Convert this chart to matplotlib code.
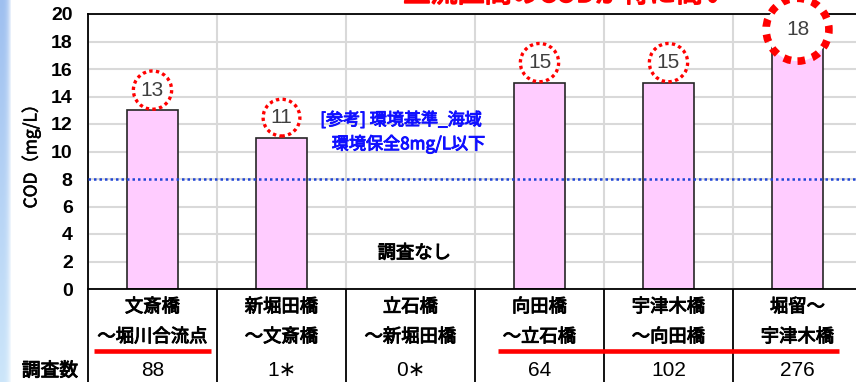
import numpy as np
import matplotlib
matplotlib.use('Agg')
import matplotlib.pyplot as plt
import matplotlib.patheffects as pe

plt.rcParams['font.family'] = ['Liberation Sans', 'Noto Sans CJK JP', 'DejaVu Sans']

# data
section_top = ['文斎橋', '新堀田橋', '立石橋', '向田橋', '宇津木橋', '堀留～']
section_bottom = ['～堀川合流点', '～文斎橋', '～新堀田橋', '～立石橋', '～向田橋', '宇津木橋']
cod_values = [13, 11, np.nan, 15, 15, 18]
survey_counts = ['88', '1∗', '0∗', '64', '102', '276']
env_standard = 8
big_mark = [False, False, False, False, False, True]
underlined = [[0, 0], [3, 5]]   # (first, last) section index of each red underline

W, H = 856, 382
fig = plt.figure(figsize=(W / 100, H / 100), dpi=100)
fig.patch.set_facecolor('white')


def heavy(color, w=0.7):
    # the CJK font has no bold face here, so thicken the strokes
    return [pe.withStroke(linewidth=w, foreground=color)]


jp = ['Noto Sans CJK JP']

# light blue strip on the left edge
strip = fig.add_axes([0, 0, 12 / W, 1])
top_c = np.array([0.62, 0.75, 0.94])
bot_c = np.array([0.80, 0.90, 0.98])
t = np.linspace(0, 1, 200)[:, None, None]
grad = top_c * (1 - t) + bot_c * t
fade = np.linspace(0, 1, 12)[None, :, None] ** 3
grad = grad * (1 - fade) + 1.0 * fade
strip.imshow(grad, aspect='auto', extent=[0, 1, 0, 1])
strip.axis('off')

ax = fig.add_axes([88 / W, 93 / H, 774 / W, 275 / H])
x = np.arange(len(cod_values))

ax.bar(x, cod_values, width=0.4, color='#ffccff', edgecolor='#262626', linewidth=1.2, zorder=2)
ax.axhline(env_standard, color='#1f45d6', linestyle=(0, (1, 1.2)), linewidth=1.8, zorder=3)

ax.set_xlim(-0.5, len(cod_values) - 0.5)
ax.set_ylim(0, 20)
ax.set_yticks(range(0, 21, 2))
ax.set_xticks([])
ax.set_xticks(np.arange(-0.5, len(cod_values), 1), minor=True)
ax.tick_params(axis='both', which='both', length=0)
ax.tick_params(axis='y', pad=11, labelsize=14)
for lbl in ax.get_yticklabels():
    lbl.set_fontweight('bold')
ax.set_axisbelow(True)
ax.grid(axis='y', color='#d9d9d9', linewidth=1.5)
ax.grid(axis='x', which='minor', color='#d9d9d9', linewidth=1.5)
for side in ['top', 'left', 'bottom']:
    ax.spines[side].set_color('black')
    ax.spines[side].set_linewidth(1.3)
ax.spines['right'].set_visible(False)

fig.text(31 / W, 1 - 152 / H, 'COD（mg/L）', rotation=90, ha='center', va='center',
         fontsize=12.5, family=jp, path_effects=heavy('black', 0.4))

# value labels with red dotted circles
for i, v in enumerate(cod_values):
    if np.isnan(v):
        continue
    if big_mark[i]:
        box = dict(boxstyle='circle,pad=0.95', fc='white', ec='#ff0000', lw=5.5, ls=(0, (1, 1)))
        off = 8.5
    else:
        box = dict(boxstyle='circle,pad=0.36', fc='white', ec='#ff0000', lw=2.4, ls=(0, (1, 1)))
        off = 14.5
    ax.annotate(f'{v:.0f}', (i, v), xytext=(0, off), textcoords='offset points',
                ha='center', va='center', fontsize=15, color='#404040', bbox=box,
                zorder=5, annotation_clip=False)

# notes
ax.text(1.30, 12.3, '[参考] 環境基準_海域', color='#1010ff', fontsize=12.3,
        family=jp, va='center', ha='left', path_effects=heavy('#1010ff'))
ax.text(1.39, 10.55, '環境保全8mg/L以下', color='#1010ff', fontsize=12.3,
        family=jp, va='center', ha='left', path_effects=heavy('#1010ff'))
ax.text(2.03, 2.6, '調査なし', color='black', fontsize=13.2,
        family=jp, va='center', ha='center', path_effects=heavy('black'))

# headline cut at the top edge
fig.text(567 / W, 1 - 2 / H, '上流区間のCODが特に高い', color='#ff0000', fontsize=19.5,
         family=jp, ha='center', va='baseline', path_effects=heavy('#ff0000', 1.2))

# table under the chart
tr = ax.get_xaxis_transform()
ax.vlines(np.arange(-0.5, len(cod_values), 1), -93 / 275, 0, transform=tr, colors='black',
          linewidth=1.3, clip_on=False)
for i in x:
    ax.text(i, -0.0655, section_top[i], transform=tr, ha='center', va='center', fontsize=13.2,
            family=jp, path_effects=heavy('black'))
    ax.text(i, -0.1745, section_bottom[i], transform=tr, ha='center', va='center', fontsize=13.2,
            family=jp, path_effects=heavy('black'))
    ax.text(i, -0.297, survey_counts[i], transform=tr, ha='center', va='center', fontsize=15)
ax.text(-0.795, -0.297, '調査数', transform=tr, ha='center', va='center', fontsize=13.5,
        family=jp, path_effects=heavy('black'))

for a, b in underlined:
    half = 0.45 if a == b else 0.32
    ax.plot([a - half, b + half], [-0.227, -0.227], transform=tr, color='#ff0000',
            linewidth=3.3, solid_capstyle='butt', clip_on=False)

fig.savefig('out.png', dpi=100)
